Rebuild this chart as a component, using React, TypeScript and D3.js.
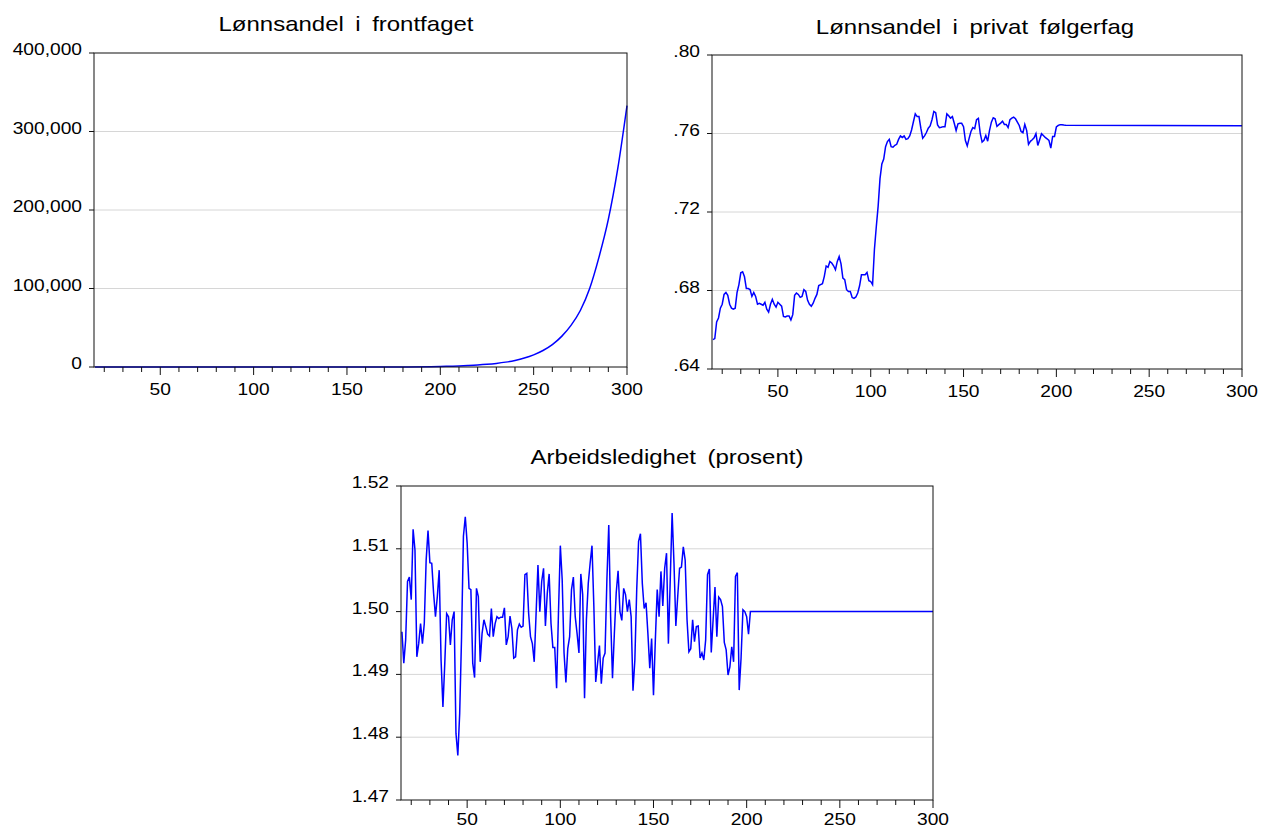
import React from 'react';
import * as d3 from 'd3';

// x axis (periods)
const xStart = 14.5;
const xEnd = 300;
const xMajorTicks = [50, 100, 150, 200, 250, 300];
const xMinorTicks = d3.range(20, 301, 10);

// Lønnsandel i frontfaget (sampled along the curve)
const frontPeriods = [15, 50, 100, 150, 175, 200, 205, 210, 215, 220, 225, 230, 235, 240, 245, 250,
  255, 260, 265, 270, 275, 280, 285, 290, 295, 300];
const frontShare = [0.1, 0.3, 1.4, 32, 150, 730, 1000, 1350, 1850, 2500, 3400, 4600, 6200, 8400, 11400, 15500,
  21000, 28500, 39000, 53000, 72000, 100000, 140000, 188000, 252000, 333000];
const frontTicks = [0, 100000, 200000, 300000, 400000];

// Lønnsandel i privat følgerfag, periods 15..205, then steady
const privateFirst = 15;
const privateShare = [
  0.655, 0.6555, 0.664, 0.666, 0.671, 0.673, 0.678, 0.679, 0.6775, 0.673,
  0.671, 0.6705, 0.671, 0.679, 0.683, 0.689, 0.6895, 0.687, 0.681, 0.681,
  0.6805, 0.677, 0.679, 0.677, 0.673, 0.6735, 0.673, 0.6725, 0.674, 0.6705,
  0.669, 0.673, 0.6755, 0.673, 0.6715, 0.674, 0.673, 0.672, 0.6668, 0.6665,
  0.667, 0.667, 0.665, 0.6677, 0.6775, 0.6787, 0.678, 0.6765, 0.677, 0.6804,
  0.6795, 0.675, 0.673, 0.672, 0.6735, 0.676, 0.678, 0.6825, 0.683, 0.6835,
  0.6872, 0.6925, 0.6918, 0.6948, 0.694, 0.6926, 0.6906, 0.6948, 0.6973, 0.6936,
  0.6863, 0.6855, 0.6804, 0.6795, 0.6795, 0.6765, 0.676, 0.6767, 0.6787, 0.6824,
  0.688, 0.688, 0.688, 0.6892, 0.685, 0.6846, 0.683, 0.701, 0.7125, 0.723,
  0.737, 0.7445, 0.747, 0.7533, 0.7559, 0.757, 0.7533, 0.753, 0.754, 0.7545,
  0.757, 0.7588, 0.758, 0.7588, 0.757, 0.7574, 0.7588, 0.7618, 0.766, 0.770,
  0.7686, 0.7686, 0.7627, 0.7576, 0.7588, 0.7605, 0.7627, 0.7639, 0.767, 0.7712,
  0.7706, 0.7644, 0.763, 0.7632, 0.7635, 0.7635, 0.770, 0.769, 0.7678, 0.7686,
  0.7652, 0.7615, 0.7649, 0.7652, 0.7652, 0.7635, 0.7564, 0.7537, 0.7575, 0.761,
  0.763, 0.7625, 0.767, 0.7677, 0.76, 0.7556, 0.7565, 0.759, 0.7561, 0.7616,
  0.7658, 0.768, 0.7675, 0.7636, 0.7645, 0.7653, 0.7663, 0.7646, 0.7646, 0.763,
  0.767, 0.7678, 0.7683, 0.7675, 0.7658, 0.7641, 0.761, 0.7604, 0.7646, 0.7616,
  0.7545, 0.756, 0.7568, 0.7578, 0.7599, 0.7539, 0.7568, 0.7599, 0.759, 0.758,
  0.7573, 0.7565, 0.7526, 0.7585, 0.7585, 0.7633, 0.7641, 0.7645, 0.7645, 0.7643,
  0.7642,
];
const privateSteady = 0.764;
const privateTicks = [0.64, 0.68, 0.72, 0.76, 0.8];

// Arbeidsledighet (prosent), periods 15..202, then steady
const unempFirst = 15;
const unemployment = [
  1.4968, 1.4918, 1.4955, 1.5048, 1.5055, 1.5019, 1.5131, 1.5098, 1.4928, 1.4949,
  1.4981, 1.4949, 1.4981, 1.5082, 1.5129, 1.5078, 1.5077, 1.5029, 1.4992, 1.5024,
  1.5066, 1.4923, 1.4848, 1.4918, 1.4997, 1.4992, 1.4947, 1.4987, 1.5000, 1.4806,
  1.4771, 1.4838, 1.4960, 1.5120, 1.5151, 1.5109, 1.5037, 1.5035, 1.4918, 1.4895,
  1.5037, 1.5024, 1.4920, 1.4965, 1.4987, 1.4976, 1.4964, 1.4961, 1.5005, 1.4960,
  1.4981, 1.4992, 1.4989, 1.4991, 1.4991, 1.5006, 1.4947, 1.4960, 1.4993, 1.4973,
  1.4926, 1.4928, 1.4971, 1.4980, 1.4975, 1.4977, 1.5059, 1.5061, 1.4997, 1.4960,
  1.4949, 1.4920, 1.4997, 1.5074, 1.5000, 1.5048, 1.5069, 1.4977, 1.5029, 1.5060,
  1.4981, 1.4943, 1.4943, 1.4878, 1.4997, 1.5105, 1.5051, 1.4934, 1.4887, 1.4941,
  1.4960, 1.5035, 1.5055, 1.4992, 1.4965, 1.4934, 1.5060, 1.5027, 1.4862, 1.4987,
  1.5045, 1.5077, 1.5105, 1.5008, 1.4888, 1.4918, 1.4946, 1.4885, 1.4926, 1.4934,
  1.5051, 1.5138, 1.4992, 1.4894, 1.4965, 1.5030, 1.5065, 1.5000, 1.4986, 1.5037,
  1.5027, 1.5000, 1.5019, 1.4992, 1.4874, 1.4923, 1.5035, 1.5112, 1.5124, 1.5045,
  1.5005, 1.5014, 1.4965, 1.4910, 1.4957, 1.4867, 1.4955, 1.5035, 1.4992, 1.5064,
  1.5009, 1.5069, 1.5093, 1.4949, 1.5051, 1.5157, 1.5077, 1.4977, 1.5024, 1.5069,
  1.5071, 1.5103, 1.5082, 1.4987, 1.4936, 1.4941, 1.4987, 1.4952, 1.4976, 1.4977,
  1.4926, 1.4934, 1.4923, 1.4955, 1.5059, 1.5068, 1.4935, 1.4987, 1.5039, 1.4960,
  1.5023, 1.5019, 1.5008, 1.4951, 1.4939, 1.4899, 1.4912, 1.4944, 1.4920, 1.5056,
  1.5062, 1.4875, 1.4926, 1.5003, 1.5000, 1.4992, 1.4964, 1.5000,
];
const unempSteady = 1.5;
const unempTicks = [1.47, 1.48, 1.49, 1.5, 1.51, 1.52];

const FONT = '"Liberation Sans", Arial, sans-serif';
const SX = 1.2; // text in the reference is a bit wide

type Pt = [number, number];

function Label({ x, y, anchor, size, children, spacing = 0 }: any) {
  return (
    <text
      transform={`translate(${x},${y}) scale(${SX},1)`}
      textAnchor={anchor}
      fontFamily={FONT}
      fontSize={size}
      wordSpacing={spacing}
      fill="#000"
    >
      {children}
    </text>
  );
}

function Panel({ frame, title, titleX, titleY, yTicks, yFormat, data, smooth, xLabelGap = 28 }: any) {
  const { left, top, right, bottom } = frame;
  const x = d3.scaleLinear().domain([xStart, xEnd]).range([left, right]);
  const y = d3.scaleLinear().domain([yTicks[0], yTicks[yTicks.length - 1]]).range([bottom, top]);
  const line = d3.line<Pt>()
    .x(d => x(d[0]))
    .y(d => y(d[1]))
    .curve(smooth ? d3.curveMonotoneX : d3.curveLinear);

  return (
    <g>
      <Label x={titleX} y={titleY} anchor="middle" size={20} spacing={4}>{title}</Label>
      {yTicks.slice(1, -1).map((t: number) => (
        <line key={'g' + t} x1={left} x2={right} y1={y(t)} y2={y(t)} stroke="#d6d6d6" strokeWidth={1} />
      ))}
      <path d={line(data) || ''} fill="none" stroke="#0000ff" strokeWidth={1.5} />
      <rect x={left} y={top} width={right - left} height={bottom - top} fill="none" stroke="#111" strokeWidth={1} />
      {yTicks.map((t: number) => (
        <g key={'y' + t}>
          <line x1={left - 5} x2={left} y1={y(t)} y2={y(t)} stroke="#111" />
          <Label x={left - 12} y={y(t) + 2} anchor="end" size={16}>{yFormat(t)}</Label>
        </g>
      ))}
      {xMinorTicks.map(t => (
        <line key={'m' + t} x1={x(t)} x2={x(t)} y1={bottom} y2={bottom + (t % 50 === 0 ? 8 : 5)} stroke="#111" />
      ))}
      {xMajorTicks.map(t => (
        <Label key={'x' + t} x={x(t)} y={bottom + xLabelGap} anchor="middle" size={16}>{t}</Label>
      ))}
    </g>
  );
}

export default function App() {
  const frontData: Pt[] = frontPeriods.map((p, i) => [p, frontShare[i]]);
  const privateData: Pt[] = privateShare.map((v, i) => [privateFirst + i, v] as Pt);
  privateData.push([xEnd, privateSteady]);
  const unempData: Pt[] = unemployment.map((v, i) => [unempFirst + i, v] as Pt);
  unempData.push([xEnd, unempSteady]);

  const fmtComma = d3.format(',');
  const fmtShare = (v: number) => d3.format('.2f')(v).replace(/^0/, '');
  const fmt2 = d3.format('.2f');

  return (
    <svg width={1262} height={830} style={{ position: 'absolute', left: 0, top: 0, background: '#fff' }}>
      <rect width={1262} height={830} fill="#fff" />
      <Panel
        frame={{ left: 94, top: 53, right: 627, bottom: 367 }}
        title="Lønnsandel i frontfaget" titleX={346} titleY={31}
        yTicks={frontTicks} yFormat={fmtComma} data={frontData} smooth
      />
      <Panel
        frame={{ left: 712, top: 55, right: 1242, bottom: 369 }}
        title="Lønnsandel i privat følgerfag" titleX={975} titleY={34}
        yTicks={privateTicks} yFormat={fmtShare} data={privateData}
      />
      <Panel
        frame={{ left: 401, top: 486, right: 933, bottom: 800 }}
        title="Arbeidsledighet (prosent)" titleX={667} titleY={464}
        yTicks={unempTicks} yFormat={fmt2} data={unempData} xLabelGap={25}
      />
    </svg>
  );
}
